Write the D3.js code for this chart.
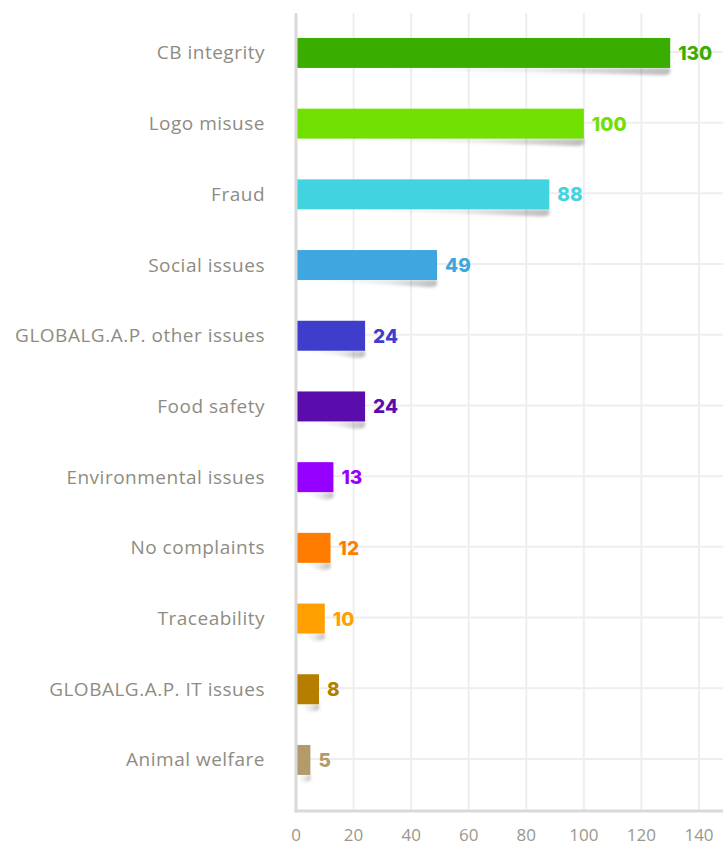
<!DOCTYPE html>
<html><head><meta charset="utf-8">
<script src="https://cdn.jsdelivr.net/npm/d3@7"></script>
<style>body{margin:0;background:#fff;}svg{display:block;}</style>
</head><body>
<script>
const categories = ["CB integrity","Logo misuse","Fraud","Social issues","GLOBALG.A.P. other issues","Food safety","Environmental issues","No complaints","Traceability","GLOBALG.A.P. IT issues","Animal welfare"];
const values = [130,100,88,49,24,24,13,12,10,8,5];
const colors = ["#3aae00","#6fe000","#41d4e0","#3fa6e0","#3f3dcc","#5a0cad","#9600ff","#ff7c00","#ff9f00","#b57e00","#b29a6a"];
const ticks = [0,20,40,60,80,100,120,140];

const W = 723, H = 847;
const svg = d3.select("body").append("svg").attr("width", W).attr("height", H);
const x = d3.scaleLinear().domain([0,140]).range([296,699]);
const y = d3.scaleBand().domain(categories).range([17.6,795.3]).paddingInner(0.576).paddingOuter(0.288);
const plotTop = 13, plotBottom = 811;

const defs = svg.append("defs");
const grad = defs.append("linearGradient").attr("id","sg").attr("x1","0").attr("x2","1").attr("y1","0").attr("y2","0");
grad.append("stop").attr("offset","0").attr("stop-color","#000").attr("stop-opacity",0);
grad.append("stop").attr("offset","0.6").attr("stop-color","#000").attr("stop-opacity",0.08);
grad.append("stop").attr("offset","1").attr("stop-color","#000").attr("stop-opacity",0.26);
defs.append("filter").attr("id","blur").attr("x","-20%").attr("y","-50%").attr("width","140%").attr("height","200%")
  .append("feGaussianBlur").attr("stdDeviation",1.4);

// grid
svg.append("g").selectAll("line").data(ticks.slice(1)).join("line")
  .attr("x1",d=>x(d)).attr("x2",d=>x(d)).attr("y1",plotTop).attr("y2",plotBottom)
  .attr("stroke","#eeeeee").attr("stroke-width",2);
svg.append("g").selectAll("line").data(categories).join("line")
  .attr("x1",296).attr("x2",W).attr("y1",d=>y(d)+y.bandwidth()/2-1).attr("y2",d=>y(d)+y.bandwidth()/2-1)
  .attr("stroke","#eeeeee").attr("stroke-width",2);

// shadows
svg.append("g").selectAll("path").data(values).join("path")
  .attr("d",(d,i)=>{const x0=x(0), x1=x(d), y1=y(categories[i])+y.bandwidth();
    return `M${x0+(x1-x0)*0.1},${y1} L${x1},${y1} L${x1},${y1+5} Q${x1-3},${y1+8} ${x1-12},${y1+7} L${x0+(x1-x0)*0.35},${y1+2} Z`;})
  .attr("fill","url(#sg)").attr("filter","url(#blur)");

// bars
svg.append("g").selectAll("rect").data(values).join("rect")
  .attr("x",x(0)).attr("y",(d,i)=>y(categories[i])).attr("width",d=>x(d)-x(0)).attr("height",y.bandwidth())
  .attr("fill",(d,i)=>colors[i]);

// axes lines
svg.append("line").attr("x1",296).attr("x2",296).attr("y1",plotTop).attr("y2",plotBottom+1.5).attr("stroke","#d9d9d9").attr("stroke-width",3);
svg.append("line").attr("x1",294.5).attr("x2",W).attr("y1",plotBottom).attr("y2",plotBottom).attr("stroke","#d9d9d9").attr("stroke-width",3);

// value labels
svg.append("g").selectAll("text").data(values).join("text")
  .attr("x",d=>x(d)+8).attr("y",(d,i)=>y(categories[i])+y.bandwidth()/2+7)
  .attr("fill",(d,i)=>colors[i]).attr("font-family","Inter, sans-serif").attr("font-weight",800).attr("font-size",19)
  .text(d=>d);

// category labels
svg.append("g").selectAll("text").data(categories).join("text")
  .attr("x",265).attr("y",d=>y(d)+y.bandwidth()/2+6.5).attr("text-anchor","end")
  .attr("fill","#8e8c82").attr("font-family","'Open Sans', sans-serif").attr("font-size",19).attr("letter-spacing",0.5)
  .text(d=>d);

// tick labels
svg.append("g").selectAll("text").data(ticks).join("text")
  .attr("x",d=>x(d)).attr("y",841).attr("text-anchor","middle")
  .attr("fill","#9a978c").attr("font-family","'Open Sans', sans-serif").attr("font-size",17)
  .text(d=>d);
</script>
</body></html>
